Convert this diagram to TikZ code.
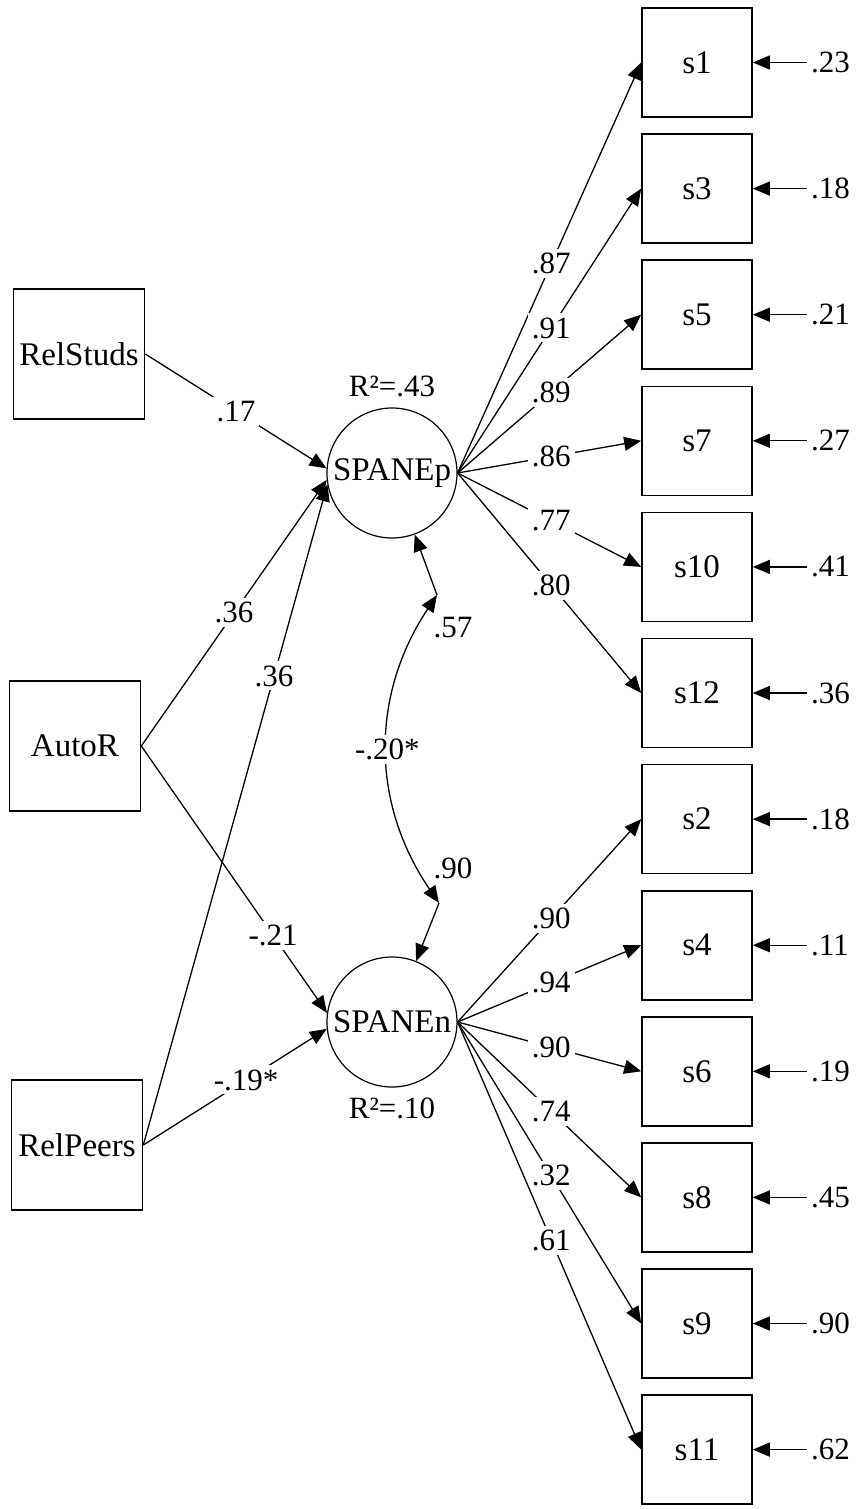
\documentclass[tikz,border=0pt]{standalone}
\usepackage{fontspec}
\setmainfont{Liberation Serif}
\usetikzlibrary{arrows.meta,positioning}

\begin{document}
\begin{tikzpicture}[x=1pt,y=-1pt,node distance=8pt,
 every node/.style={font=\fontsize{33}{36}\selectfont},
 obs/.style={draw,line width=1.6pt,minimum width=110pt,minimum height=109pt,inner sep=0pt},
 exo/.style={draw,line width=1.6pt,minimum width=131pt,minimum height=130pt,inner sep=0pt},
 lat/.style={draw,circle,line width=1.2pt,minimum size=130pt,inner sep=0pt},
 lbl/.style={fill=white,inner sep=4pt,font=\fontsize{31}{33}\selectfont},
 arr/.style={-{Triangle[length=17pt,width=14pt]},line width=1.3pt},
 cov/.style={{Triangle[length=17pt,width=14pt]}-{Triangle[length=17pt,width=14pt]},line width=1.3pt}]
\useasboundingbox (0,0) rectangle (859,1509);
% exogenous
\node[exo](studs) at (79,354){RelStuds};
\node[exo](autor) at (75,746){AutoR};
\node[exo](peers) at (77,1145){RelPeers};
% latent
\node[lat](p) at (392,473){SPANEp};
\node[lat](n) at (392,1022){SPANEn};
\node[lbl,above=6pt of p](rp){R²=.43};
\node[lbl,below=6pt of n](rn){R²=.10};
% indicators
\foreach \s [count=\i from 0] in {s1,s3,s5,s7,s10,s12,s2,s4,s6,s8,s9,s11}{
 \node[obs](\s) at (697,62.5+126.1*\i){\s};}
% regressions
\draw[arr](studs.east)--(p.176) node[lbl,pos=.5]{.17};
\draw[arr](autor.east)--(p.186) node[lbl,pos=.5]{.36};
\draw[arr](peers.east)--(p.190) node[lbl,pos=.71]{.36};
\draw[arr](autor.east)--(n.172) node[lbl,pos=.71]{-.21};
\draw[arr](peers.east)--(n.186) node[lbl,pos=.56]{-.19*};
% residual covariance
\coordinate(ep) at (437,595);
\coordinate(en) at (439,903);
\draw[arr](ep)--(p);
\draw[arr](en)--(n);
\draw[cov](ep) to[bend right=34] node[lbl]{-.20*} (en);
\node[lbl](vp) at (453,628){.57};
\node[lbl](vn) at (453,868){.90};
% loadings
\foreach \s/\v in {s1/.87,s3/.91,s5/.89,s7/.86,s10/.77,s12/.80}{
 \draw[arr](p.east)--(\s.west) node[lbl,pos=.51]{\v};}
\foreach \s/\v in {s2/.90,s4/.94,s6/.90,s8/.74,s9/.32,s11/.61}{
 \draw[arr](n.east)--(\s.west) node[lbl,pos=.51]{\v};}
% errors
\foreach \s/\v in {s1/.23,s3/.18,s5/.21,s7/.27,s10/.41,s12/.36,s2/.18,s4/.11,s6/.19,s8/.45,s9/.90,s11/.62}{
 \node[lbl,right=54pt of \s](e\s){\v};
 \draw[arr](e\s.west)--(\s.east);}
\end{tikzpicture}
\end{document}
